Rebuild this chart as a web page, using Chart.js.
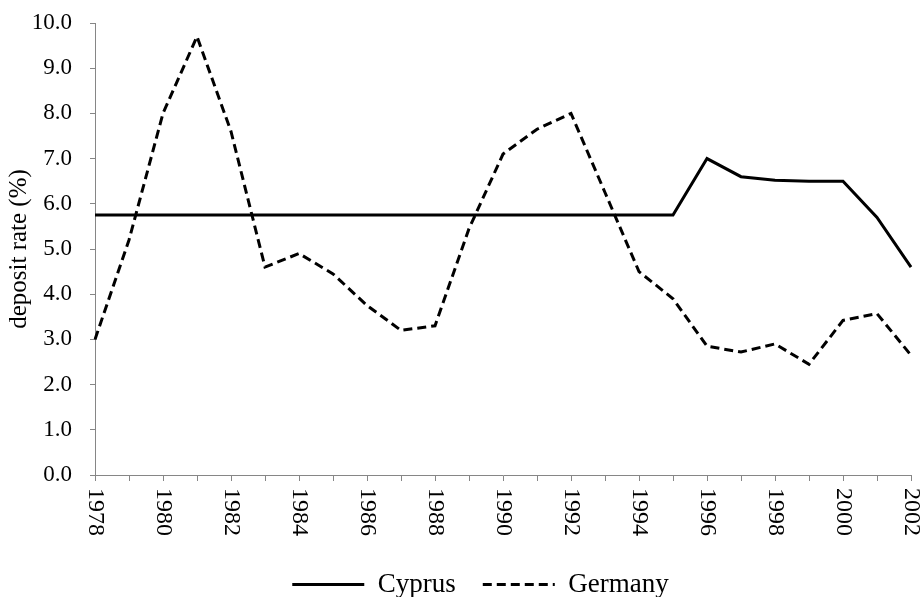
<!DOCTYPE html>
<html>
<head>
<meta charset="utf-8">
<script src="https://cdn.jsdelivr.net/npm/chart.js@4"></script>
<style>
  body { margin: 0; background: #fff; }
</style>
</head>
<body>
<canvas id="myChart" width="922" height="597"></canvas>
<script>
const years = [
	"1978", "1979", "1980", "1981", "1982", "1983", "1984", "1985", "1986",
	"1987", "1988", "1989", "1990", "1991", "1992", "1993", "1994", "1995",
	"1996", "1997", "1998", "1999", "2000", "2001", "2002",
];
const yearLabels = ["1978", "1980", "1982", "1984", "1986", "1988", "1990", "1992", "1994", "1996", "1998", "2000", "2002"];

const cyprus = [
	5.75, 5.75, 5.75, 5.75, 5.75, 5.75, 5.75, 5.75, 5.75,
	5.75, 5.75, 5.75, 5.75, 5.75, 5.75, 5.75, 5.75, 5.75,
	7.0, 6.6, 6.52, 6.5, 6.5, 5.7, 4.6,
];
const germany = [
	3.0, 5.2, 8.0, 9.7, 7.6, 4.6, 4.9, 4.45, 3.75,
	3.2, 3.3, 5.45, 7.1, 7.65, 8.0, 6.25, 4.5, 3.9,
	2.85, 2.72, 2.9, 2.45, 3.42, 3.57, 2.65,
];

const FONT = "'Liberation Serif', 'Times New Roman', serif";
const AXIS_GREY = "#868686";

// x labels are written top to bottom, so they are drawn here
const yearLabelPlugin = {
	id: "yearLabels",
	afterLayout(chart) {
		// legend sits a bit right of centre in the original
		chart.legend.left += 25;
		chart.legend.right += 25;
	},
	afterDraw(chart) {
		const ctx = chart.ctx;
		const xs = chart.scales.x;
		ctx.save();
		ctx.font = "24px " + FONT;
		ctx.fillStyle = "#000";
		ctx.textAlign = "left";
		ctx.textBaseline = "middle";
		years.forEach((y, i) => {
			if (!yearLabels.includes(y)) return;
			const x = xs.getPixelForValue(i);
			ctx.save();
			ctx.translate(x, xs.top + 13);
			ctx.rotate(Math.PI / 2);
			ctx.fillText(y, 0, 0);
			ctx.restore();
		});
		ctx.restore();
	},
};

const ctx = document.getElementById("myChart").getContext("2d");
const myChart = new Chart(ctx, {
	type: "line",
	data: {
		labels: years,
		datasets: [
			{
				label: "Cyprus",
				data: cyprus,
				borderColor: "#000",
				backgroundColor: "#000",
				borderWidth: 3,
				pointRadius: 0,
				tension: 0,
			},
			{
				label: "Germany",
				data: germany,
				borderColor: "#000",
				backgroundColor: "#000",
				borderWidth: 3,
				borderDash: [9, 5],
				pointRadius: 0,
				tension: 0,
			},
		],
	},
	options: {
		responsive: false,
		animation: false,
		layout: {
			padding: { top: 23, right: 11, left: 0, bottom: -11 },
		},
		plugins: {
			tooltip: { enabled: false },
			legend: {
				position: "bottom",
				labels: {
					usePointStyle: true,
					pointStyle: "line",
					pointStyleWidth: 72,
					color: "#000",
					padding: 27,
					font: { family: FONT, size: 27 },
					generateLabels: (chart) =>
						Chart.defaults.plugins.legend.labels.generateLabels(chart).map((item) => {
							const ds = chart.data.datasets[item.datasetIndex];
							item.lineDash = ds.borderDash || [];
							item.lineWidth = ds.borderWidth;
							item.strokeStyle = ds.borderColor;
							return item;
						}),
				},
			},
		},
		scales: {
			x: {
				type: "category",
				offset: false,
				grid: {
					drawOnChartArea: false,
					drawTicks: true,
					tickLength: 6,
					color: AXIS_GREY,
				},
				border: { color: AXIS_GREY, width: 1 },
				ticks: { display: false, autoSkip: false },
				afterFit: (scale) => {
					scale.height = 69;
				},
			},
			y: {
				min: 0,
				max: 10,
				grid: {
					drawOnChartArea: false,
					drawTicks: true,
					tickLength: 5,
					color: AXIS_GREY,
				},
				border: { color: AXIS_GREY, width: 1 },
				ticks: {
					stepSize: 1,
					padding: 18,
					color: "#000",
					font: { family: FONT, size: 23, lineHeight: 0.4 },
					callback: (v) => v.toFixed(1),
				},
				title: {
					display: true,
					text: "deposit rate (%)",
					color: "#000",
					font: { family: FONT, size: 25 },
				},
				afterFit: (scale) => {
					scale.width = 95;
				},
			},
		},
	},
	plugins: [yearLabelPlugin],
});
</script>
</body>
</html>
